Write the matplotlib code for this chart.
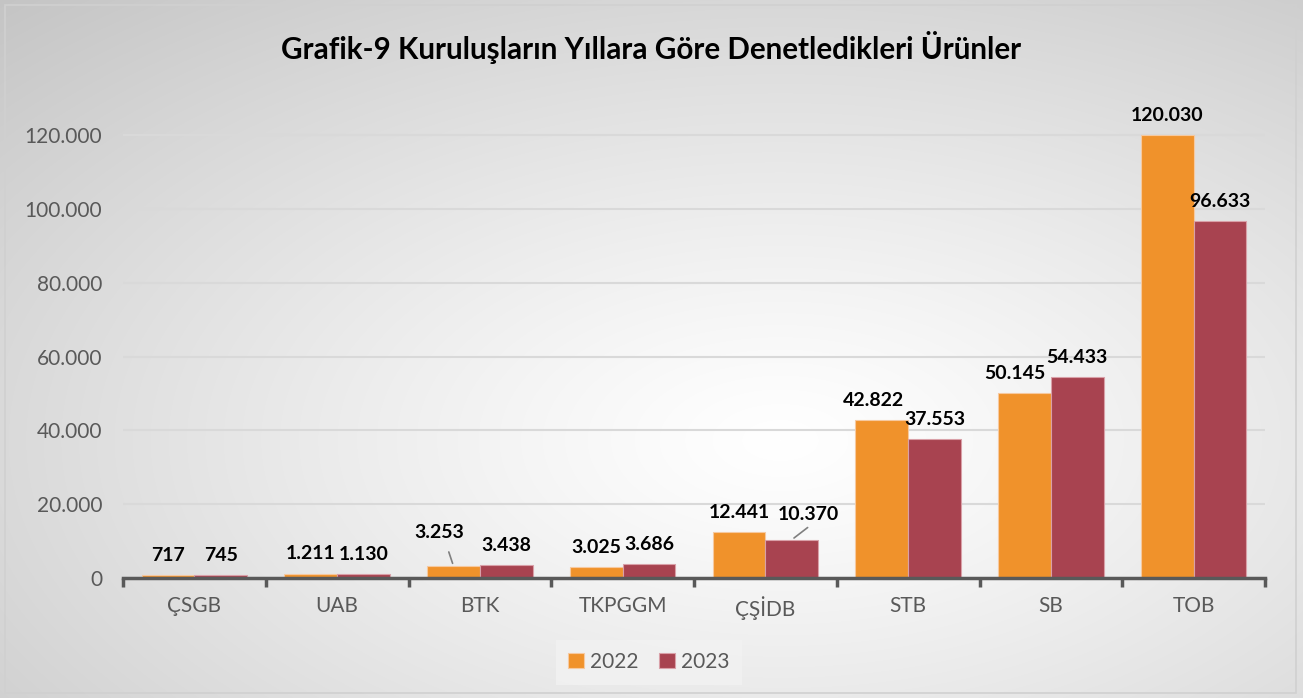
import numpy as np
import matplotlib
matplotlib.use("Agg")
import matplotlib.pyplot as plt
from matplotlib.patches import Rectangle

categories = ["ÇSGB", "UAB", "BTK", "TKPGGM", "ÇŞİDB", "STB", "SB", "TOB"]
values_2022 = [717, 1211, 3253, 3025, 12441, 42822, 50145, 120030]
values_2023 = [745, 1130, 3438, 3686, 10370, 37553, 54433, 96633]
series_names = ["2022", "2023"]
yticks = [0, 20000, 40000, 60000, 80000, 100000, 120000]
title = "Grafik-9 Kuruluşların Yıllara Göre Denetledikleri Ürünler"

def tr_fmt(v):
    return f"{int(v):,}".replace(",", ".")

plt.rcParams['font.family'] = ['Lato', 'DejaVu Sans']

W, H = 1303, 698
fig = plt.figure(figsize=(W / 100, H / 100), dpi=100)

# background radial gradient
bg = fig.add_axes([0, 0, 1, 1])
bg.set_axis_off()
yy, xx = np.mgrid[0:H, 0:W]
cx, cy = 780, 440
r = np.sqrt(((xx - cx) / W) ** 2 + ((yy - cy) / H) ** 2)
r = r / r.max()
val = 1.0 - 0.23 * np.clip(r, 0, 1) ** 1.2
img = np.dstack([val, val, val])
bg.imshow(img, extent=[0, W, H, 0], aspect='auto', interpolation='bilinear')
bg.set_xlim(0, W)
bg.set_ylim(H, 0)
bg.add_patch(Rectangle((5, 5), W - 12, H - 10, fill=False, edgecolor='#d0d0d0', lw=1.2))

ax = fig.add_axes([123 / W, 120 / H, 1142 / W, 516.8 / H])
ax.patch.set_alpha(0)
n = len(categories)
x = np.arange(n)
bw = 0.37
c22 = '#F0922B'
c23 = '#A84350'
b1 = ax.bar(x - bw / 2, values_2022, bw, color=c22, edgecolor='#f6c9a0', lw=0.8, zorder=3, label=series_names[0])
b2 = ax.bar(x + bw / 2, values_2023, bw, color=c23, edgecolor='#d9a0a8', lw=0.8, zorder=3, label=series_names[1])

ax.set_xlim(-0.5, n - 0.5)
ax.set_ylim(0, 140000)
ax.set_yticks(yticks)
ax.set_yticklabels([tr_fmt(v) for v in yticks], fontsize=15, color='#595959')
ax.tick_params(axis='y', length=0, pad=15)
ax.set_xticks(x)
ax.set_xticklabels(categories, fontsize=15, color='#595959')
ax.tick_params(axis='x', length=0, pad=13)
for v in yticks[1:]:
    ax.axhline(v, color='#d9d9d9', lw=1.5, zorder=1)
for s in ['top', 'right', 'left']:
    ax.spines[s].set_visible(False)
ax.spines['bottom'].set_color('#595959')
ax.spines['bottom'].set_linewidth(2.5)
ax.spines['bottom'].set_zorder(4)
# boundary tick marks
for b in np.arange(-0.5, n, 1.0):
    ax.plot([b, b], [0, -2400], color='#595959', lw=2.5, clip_on=False, solid_capstyle='butt', zorder=4)

# data labels
special = {(0, 2): (-10, 18), (1, 4): (12, 12), (0, 5): (-6, 8), (0, 6): (-7, 8)}
for si, (bars, vals) in enumerate([(b1, values_2022), (b2, values_2023)]):
    for ci, (rect, v) in enumerate(zip(bars, vals)):
        xc = rect.get_x() + rect.get_width() / 2
        dx, dy = special.get((si, ci), (0, 8))
        ax.annotate(tr_fmt(v), (xc, v), xytext=(dx, dy), textcoords='offset points',
                    ha='center', va='bottom', fontsize=14, fontweight='bold', color='black', zorder=5)

# leader lines for moved labels
ax.annotate('', (b1[2].get_x() + b1[2].get_width() / 2, values_2022[2]), xytext=(-4, 12),
            textcoords='offset points', arrowprops=dict(arrowstyle='-', color='#7f7f7f', lw=1.2))
ax.annotate('', (b2[4].get_x() + b2[4].get_width() / 2, values_2023[4]), xytext=(13, 10),
            textcoords='offset points', arrowprops=dict(arrowstyle='-', color='#7f7f7f', lw=1.2))

fig.text(651 / W, 1 - 47 / H, title, ha='center', va='center', fontsize=21.3, fontweight='bold', color='black')

leg = fig.legend(handles=[b1, b2], labels=series_names, loc='center', bbox_to_anchor=(649 / W, 1 - 662 / H),
                 ncol=2, frameon=True, fontsize=15, handlelength=0.75, handleheight=0.75,
                 handletextpad=0.3, columnspacing=1.0, borderpad=0.6, fancybox=False)
leg.get_frame().set_facecolor('#f2f2f2')
leg.get_frame().set_edgecolor('none')
for t in leg.get_texts():
    t.set_color('#595959')

fig.savefig('out.png', dpi=100)
